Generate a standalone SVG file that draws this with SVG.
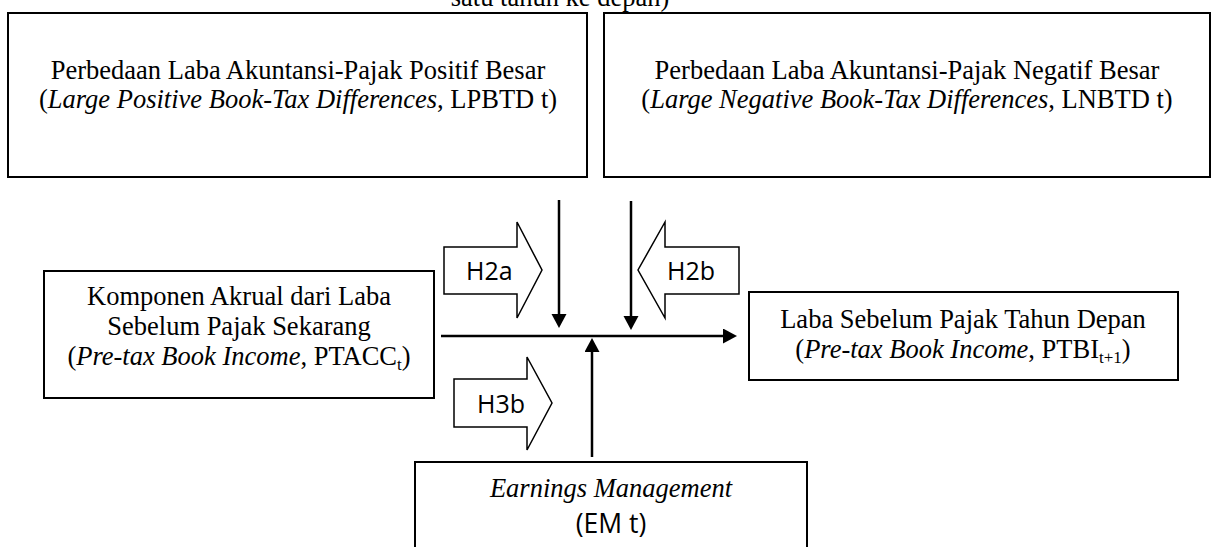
<svg xmlns="http://www.w3.org/2000/svg" width="1212" height="547" viewBox="0 0 1212 547">
<style>
.box{fill:#fff;stroke:#000;stroke-width:2}
.blk{fill:#fff;stroke:#000;stroke-width:1.5}
.t{font-family:"Liberation Serif","Times New Roman",serif;font-size:26.5px;fill:#000;text-anchor:middle}
.s{font-family:"Open Sans","Liberation Sans",sans-serif;font-size:25px;fill:#000}
.em{font-family:"Open Sans","Liberation Sans",sans-serif;font-size:26.5px;fill:#000;text-anchor:middle}
.i{font-style:italic}
.sub{font-size:17px}
.ln{stroke:#000;stroke-width:2.5;fill:none}
</style>
<defs>
<marker id="ah" markerUnits="userSpaceOnUse" markerWidth="15" markerHeight="16" refX="10" refY="7.5" orient="auto">
<path d="M0,0 L14,7.5 L0,15 z" fill="#000"/>
</marker>
</defs>
<text class="t" x="560" y="6">satu tahun ke depan)</text>
<g id="lpbtd">
<rect class="box" x="8" y="13" width="579" height="164"/>
<text class="t" x="298" y="79">Perbedaan Laba Akuntansi-Pajak Positif Besar</text>
<text class="t" x="298" y="108">(<tspan class="i">Large Positive Book-Tax Differences</tspan>, LPBTD t)</text>
</g>
<g id="lnbtd">
<rect class="box" x="604" y="13" width="606" height="164"/>
<text class="t" x="907" y="79">Perbedaan Laba Akuntansi-Pajak Negatif Besar</text>
<text class="t" x="907" y="108">(<tspan class="i">Large Negative Book-Tax Differences</tspan>, LNBTD t)</text>
</g>
<g id="ptacc">
<rect class="box" x="44" y="271" width="390" height="127"/>
<text class="t" x="239" y="305">Komponen Akrual dari Laba</text>
<text class="t" x="239" y="335">Sebelum Pajak Sekarang</text>
<text class="t" x="239" y="365">(<tspan class="i">Pre-tax Book Income</tspan>, PTACC<tspan class="sub" dy="5">t</tspan><tspan dy="-5">)</tspan></text>
</g>
<g id="ptbi">
<rect class="box" x="749" y="292" width="429" height="88"/>
<text class="t" x="963" y="328">Laba Sebelum Pajak Tahun Depan</text>
<text class="t" x="963" y="358">(<tspan class="i">Pre-tax Book Income</tspan>, PTBI<tspan class="sub" dy="5">t+1</tspan><tspan dy="-5">)</tspan></text>
</g>
<g id="em">
<rect class="box" x="415" y="462" width="392" height="100"/>
<text class="t i" x="611" y="497">Earnings Management</text>
<text class="em" x="611" y="533">(EM t)</text>
</g>
<g id="h2a">
<polygon class="blk" points="444,247 517,247 517,222 542,270 517,318 517,294 444,294"/>
<text class="s" x="466" y="280">H2a</text>
</g>
<g id="h2b">
<polygon class="blk" points="739,247 665,247 665,222 638,270 665,318 665,294 739,294"/>
<text class="s" x="667" y="280">H2b</text>
</g>
<g id="h3b">
<polygon class="blk" points="454,379 527,379 527,357 552,403 527,450 527,427 454,427"/>
<text class="s" x="477" y="413">H3b</text>
</g>
<g id="connectors">
<line class="ln" x1="559" y1="200" x2="559" y2="324" marker-end="url(#ah)"/>
<line class="ln" x1="631" y1="201" x2="631" y2="326" marker-end="url(#ah)"/>
<line class="ln" x1="441" y1="336" x2="733" y2="336" marker-end="url(#ah)"/>
<line class="ln" x1="592" y1="457" x2="592" y2="342" marker-end="url(#ah)"/>
</g>
</svg>
